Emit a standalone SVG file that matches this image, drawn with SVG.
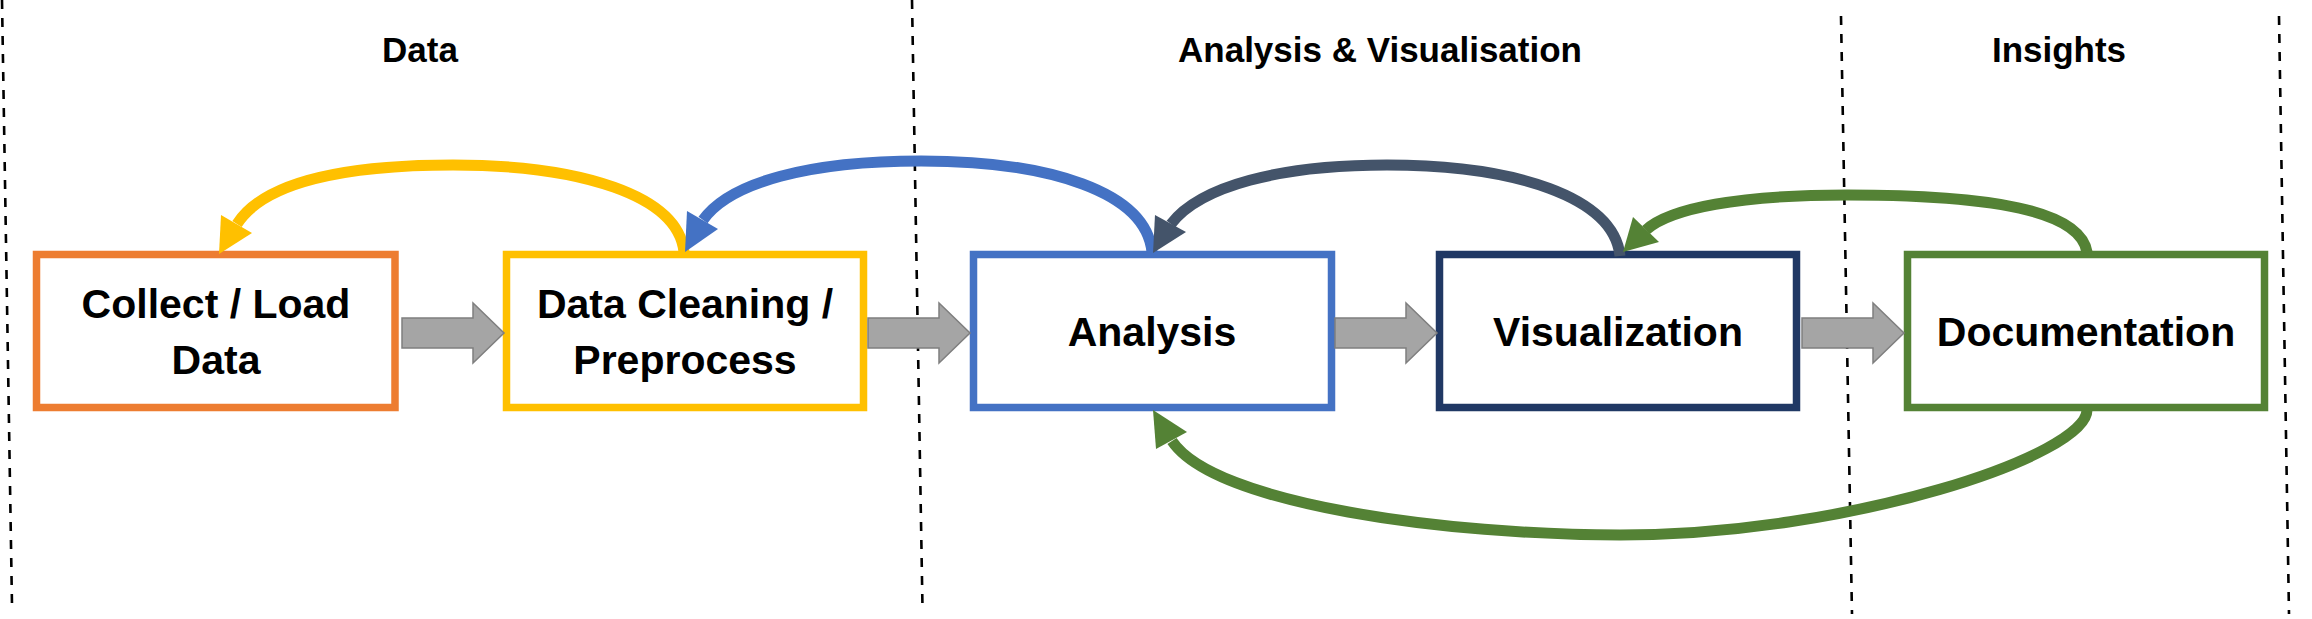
<svg xmlns="http://www.w3.org/2000/svg" width="2312" height="619" viewBox="0 0 2312 619">
<style>
.hdr{font-family:"Liberation Sans",Arial,sans-serif;font-weight:bold;font-size:35px;fill:#000;text-anchor:middle}
.lbl{font-family:"Liberation Sans",Arial,sans-serif;font-weight:bold;font-size:41px;fill:#000;text-anchor:middle}
.box{fill:#fff;stroke-width:7.5}
.sep{stroke:#000;stroke-width:2.6;stroke-dasharray:9 9;fill:none}
.curve{fill:none;stroke-width:11;stroke-linecap:butt}
.blk{fill:#A5A5A5;stroke:#7F7F7F;stroke-width:1.5}
</style>
<defs>
<path id="blockArrow" d="M0 -15 L71 -15 L71 -30 L102 0 L71 30 L71 15 L0 15 Z"/>
</defs>
<rect width="2312" height="619" fill="#fff"/>
<g id="separators">
<line class="sep" x1="2" y1="0" x2="12" y2="605"/>
<line class="sep" x1="912" y1="0" x2="922.5" y2="608"/>
<line class="sep" x1="1841" y1="16" x2="1852" y2="614"/>
<line class="sep" x1="2279" y1="16" x2="2289" y2="614"/>
</g>
<g id="headers">
<text class="hdr" x="420" y="62">Data</text>
<text class="hdr" x="1380" y="62">Analysis &amp; Visualisation</text>
<text class="hdr" x="2059" y="62">Insights</text>
</g>
<g id="node-collect">
<rect class="box" x="36.5" y="254.5" width="358.5" height="153" stroke="#ED7D31"/>
<text class="lbl" x="216" y="318">Collect / Load</text>
<text class="lbl" x="216" y="374">Data</text>
</g>
<g id="node-cleaning">
<rect class="box" x="506.5" y="254.5" width="357" height="153" stroke="#FFC000"/>
<text class="lbl" x="685" y="318">Data Cleaning /</text>
<text class="lbl" x="685" y="374">Preprocess</text>
</g>
<g id="node-analysis">
<rect class="box" x="973.5" y="254.5" width="358" height="153" stroke="#4472C4"/>
<text class="lbl" x="1152" y="346">Analysis</text>
</g>
<g id="node-visualization">
<rect class="box" x="1439.5" y="254.5" width="357" height="153" stroke="#203864"/>
<text class="lbl" x="1618" y="346">Visualization</text>
</g>
<g id="node-documentation">
<rect class="box" x="1907.5" y="254.5" width="357" height="153" stroke="#548235"/>
<text class="lbl" x="2086" y="346">Documentation</text>
</g>
<g id="connectors">
<use href="#blockArrow" class="blk" transform="translate(402,333)"/>
<use href="#blockArrow" class="blk" transform="translate(868,333)"/>
<use href="#blockArrow" class="blk" transform="translate(1335,333)"/>
<use href="#blockArrow" class="blk" transform="translate(1802,333)"/>
<path class="curve" stroke="#FFC000" d="M684 252 C678 195 580 165 453 165 C345 165 264 182 237 224"/>
<polygon fill="#FFC000" points="221,215 252,233 219,254"/>
<path class="curve" stroke="#4472C4" d="M1152 252 C1146 192 1050 161 921 161 C810 161 730 182 703 220"/>
<polygon fill="#4472C4" points="687,211 718,229 685,252"/>
<path class="curve" stroke="#44546A" d="M1620 256 C1614 197 1515 165 1387 165 C1280 165 1200 186 1171 224"/>
<polygon fill="#44546A" points="1155,215 1186,232 1153,253"/>
<path class="curve" stroke="#548235" d="M2087 252 C2080 210 1990 195 1847 195 C1740 195 1670 208 1646 230"/>
<polygon fill="#548235" points="1633,217 1659,242 1623,252"/>
<path class="curve" stroke="#548235" d="M2087 410 C2087 455 1850 535 1620 535 C1450 535 1215 505 1172 441"/>
<polygon fill="#548235" points="1156,449 1187,432 1153,410"/>
</g>
</svg>
